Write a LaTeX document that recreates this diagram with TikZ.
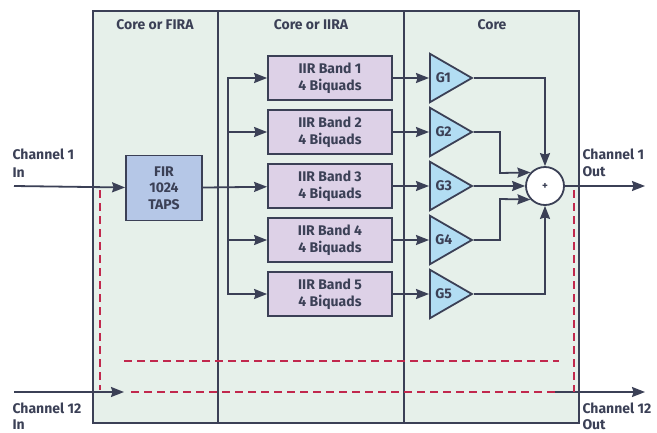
\documentclass[tikz,border=0pt]{standalone}
\usepackage{fontspec}
\setmainfont{Fira Sans}
\usetikzlibrary{arrows.meta,shapes.geometric}
\definecolor{inkc}{HTML}{3B4056}
\definecolor{panelc}{HTML}{E6F0EA}
\definecolor{firc}{HTML}{B5C7E7}
\definecolor{iirc}{HTML}{DDD1E7}
\definecolor{gainc}{HTML}{B2DDF3}
\definecolor{redc}{HTML}{C1284D}

\begin{document}
\begin{tikzpicture}[
    x=1pt, y=-1pt,
    every node/.style={font=\bfseries\fontsize{14}{17.5}\selectfont, text=inkc},
    panel/.style={draw=inkc, line width=1.8pt, fill=panelc},
    band/.style={rectangle, draw=inkc, line width=1.8pt, fill=iirc, minimum width=124pt, minimum height=44pt, align=center, inner sep=0pt},
    gain/.style={isosceles triangle, isosceles triangle apex angle=60, draw=inkc, line width=1.8pt, fill=gainc, minimum height=42pt, inner sep=0pt, anchor=west},
    arrow/.style={-{Stealth[length=13pt, width=10pt, inset=1.5pt]}, line width=1.8pt, draw=inkc},
    chain/.style={draw=redc, line width=1.8pt, dash pattern=on 8pt off 5pt},
    label/.style={anchor=west, align=left}
]
\useasboundingbox (0,0) rectangle (657,432);

% Panels
\draw[panel] (93,11) rectangle (218,423);
\draw[panel] (218,11) rectangle (404,423);
\draw[panel] (404,11) rectangle (579,423);
\node (fira) at (155,25) {Core or FIRA};
\node (iira) at (311,25) {Core or IIRA};
\node (core) at (492,25) {Core};

% FIR
\node[rectangle, draw=inkc, line width=1.8pt, fill=firc, minimum width=76pt, minimum height=65pt, align=center, inner sep=0pt, font=\bfseries\fontsize{14}{16.5}\selectfont] (fir) at (164,188) {FIR\\1024\\TAPS};

% IIR bands
\node[band] (iir1) at (330,78) {IIR Band 1\\4 Biquads};
\node[band] (iir2) at (330,132) {IIR Band 2\\4 Biquads};
\node[band] (iir3) at (330,186) {IIR Band 3\\4 Biquads};
\node[band] (iir4) at (330,240) {IIR Band 4\\4 Biquads};
\node[band] (iir5) at (330,294) {IIR Band 5\\4 Biquads};

% Gains
\node[gain] (g1) at (429,78) {G1};
\node[gain] (g2) at (429,132) {G2};
\node[gain] (g3) at (429,186) {G3};
\node[gain] (g4) at (429,240) {G4};
\node[gain] (g5) at (429,294) {G5};

% Sum
\node[circle, draw=inkc, line width=1.8pt, fill=white, minimum size=38pt, inner sep=0pt, font=\bfseries\fontsize{11}{11}\selectfont] (sum) at (545,186) {+};

% Channel 1
\coordinate (in1) at (14,186);
\coordinate (out1) at (645,186);
\node[label] (in1txt) at (9,163) {Channel 1\\In};
\node[label] (out1txt) at (579,163) {Channel 1\\Out};
\draw[arrow] (in1) -- (fir);

% Split to bands
\coordinate (split) at (228,186);
\draw[arrow] (fir) -- (iir3);
\draw[arrow] (split) |- (iir1);
\draw[arrow] (split) |- (iir2);
\draw[arrow] (split) |- (iir4);
\draw[arrow] (split) |- (iir5);

% Bands to gains
\draw[arrow] (iir1) -- (g1);
\draw[arrow] (iir2) -- (g2);
\draw[arrow] (iir3) -- (g3);
\draw[arrow] (iir4) -- (g4);
\draw[arrow] (iir5) -- (g5);

% Gains to sum
\draw[arrow] (g1.apex) -| (sum);
\draw[arrow] (g2.apex) -| (500,173) -- (sum.137);
\draw[arrow] (g3.apex) -- (sum);
\draw[arrow] (g4.apex) -| (500,199) -- (sum.223);
\draw[arrow] (g5.apex) -| (sum);
\draw[arrow] (sum) -- (out1);

% Channel 12
\coordinate (in12) at (14,392);
\coordinate (in12end) at (124,392);
\coordinate (out12beg) at (555,392);
\coordinate (out12) at (645,392);
\node[label, font=\bfseries\fontsize{14}{16}\selectfont] (in12txt) at (9,416) {Channel 12\\In};
\node[label, font=\bfseries\fontsize{14}{16}\selectfont] (out12txt) at (579,416) {Channel 12\\Out};
\draw[arrow] (in12) -- (in12end);
\draw[chain] (131,392) -- (out12beg);
\draw[arrow] (out12beg) -- (out12);

% Channel chain
\draw[chain] (100,190) -- (100,390);
\draw[chain] (574,190) -- (574,392);
\draw[chain] (124,361) -- (559,361);

\end{tikzpicture}
\end{document}
